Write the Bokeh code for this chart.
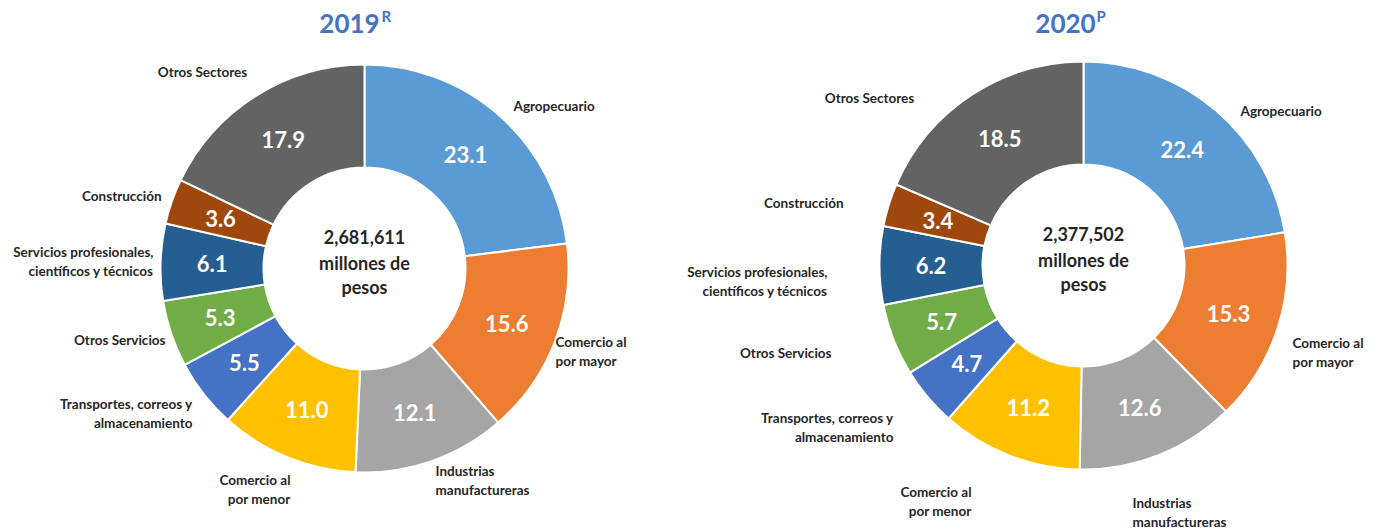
import numpy as np
from bokeh.plotting import figure
from bokeh.models import Range1d, ColumnDataSource
from bokeh.embed import file_html
from bokeh.resources import INLINE
from bokeh.core.properties import value

# ---------------- data ----------------
categories = ["Agropecuario", "Comercio al por mayor", "Industrias manufactureras",
              "Comercio al por menor", "Transportes, correos y almacenamiento",
              "Otros Servicios", "Servicios profesionales, científicos y técnicos",
              "Construcción", "Otros Sectores"]
label_lines = [["Agropecuario"], ["Comercio al", "por mayor"], ["Industrias", "manufactureras"],
               ["Comercio al", "por menor"], ["Transportes, correos y", "almacenamiento"],
               ["Otros Servicios"], ["Servicios profesionales,", "científicos y técnicos"],
               ["Construcción"], ["Otros Sectores"]]
values_2019 = [23.1, 15.6, 12.1, 11.0, 5.5, 5.3, 6.1, 3.6, 17.9]
values_2020 = [22.4, 15.3, 12.6, 11.2, 4.7, 5.7, 6.2, 3.4, 18.5]
years = ["2019", "2020"]
year_marks = ["R", "P"]
totals = ["2,681,611", "2,377,502"]
center_caption = ["millones de", "pesos"]

# ---------------- style / layout ----------------
colors = ["#5B9BD5", "#ED7D31", "#A5A5A5", "#FFC000", "#4472C4",
          "#70AD47", "#255E91", "#9E480E", "#636363"]
FONT = value("Lato")
W, H = 1380, 529
centers = [(364, 268), (1083, 265)]
R_OUT, R_IN = 204, 101
label_layout = [
    [(149, -163, "left"), (191, 73, "left"), (71, 202, "left"), (-74, 211, "right"),
     (-172, 135, "right"), (-199, 71, "right"), (-211, -17, "right"), (-203, -73, "right"),
     (-162, -197, "center")],
    [(157, -155, "left"), (209, 77, "left"), (49, 237, "left"), (-112, 226, "right"),
     (-190, 152, "right"), (-252, 87, "right"), (-256, 6, "right"), (-240, -63, "right"),
     (-214, -168, "center")],
]
title_layout = [(351, 23, 381, 15), (1067, 23, 1096, 15)]
LINE_H = 19

p = figure(width=W, height=H, output_backend="svg", toolbar_location=None,
           x_range=Range1d(0, W), y_range=Range1d(0, H), min_border=0)
p.axis.visible = False
p.grid.visible = False
p.outline_line_color = None
p.background_fill_color = "white"
p.border_fill_color = "white"

for k, vals in enumerate([values_2019, values_2020]):
    cx, cy = centers[k]
    v = np.array(vals, dtype=float)
    frac = v / v.sum()
    cum_after = np.cumsum(frac)
    cum_before = cum_after - frac
    start = np.pi / 2 - 2 * np.pi * cum_after
    end = np.pi / 2 - 2 * np.pi * cum_before
    mid = (start + end) / 2
    src = ColumnDataSource(dict(start=start, end=end, color=colors,
                                x=[cx] * len(v), y=[H - cy] * len(v)))
    p.annular_wedge(x="x", y="y", inner_radius=R_IN, outer_radius=R_OUT,
                    start_angle="start", end_angle="end", fill_color="color",
                    line_color="white", line_width=2, source=src)
    # value labels
    rm = (R_IN + R_OUT) / 2
    p.text(x=cx + rm * np.cos(mid), y=(H - cy) + rm * np.sin(mid),
           text=[f"{x:.1f}" for x in vals], text_color="white",
           text_font=FONT, text_font_style="bold", text_font_size="22px",
           text_align="center", text_baseline="middle")
    # category labels
    xs, ys, ts, als = [], [], [], []
    for i, lines in enumerate(label_lines):
        dx, dy, al = label_layout[k][i]
        for j, t in enumerate(lines):
            xs.append(cx + dx)
            ys.append(H - (cy + dy + j * LINE_H))
            ts.append(t)
            als.append(al)
    p.text(x=xs, y=ys, text=ts, text_align=als, text_baseline="middle",
           text_color="#262626", text_font=FONT, text_font_style="bold",
           text_font_size="13.5px")
    # centre text
    ct = [totals[k]] + center_caption
    p.text(x=[cx] * 3, y=[H - (cy - 32), H - (cy - 6), H - (cy + 18)], text=ct,
           text_align="center", text_baseline="middle", text_color="#262626",
           text_font=FONT, text_font_style="bold", text_font_size="18px")
    # titles
    tx, ty, sx, sy = title_layout[k]
    p.text(x=[tx - 2], y=[H - ty], text=[years[k]], text_align="center",
           text_baseline="middle", text_color="#4472C4", text_font=FONT,
           text_font_style="bold", text_font_size="26px")
    p.text(x=[sx], y=[H - sy], text=[year_marks[k]], text_align="left",
           text_baseline="middle", text_color="#4472C4", text_font=FONT,
           text_font_style="bold", text_font_size="15px")

open("out.html", "w").write(file_html(p, INLINE))
